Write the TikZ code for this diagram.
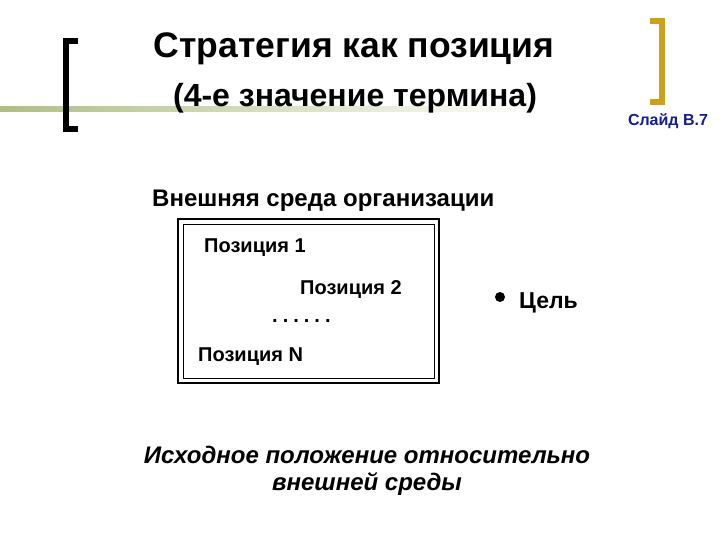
\documentclass[tikz,border=0pt]{standalone}
\usepackage{fontspec}
\setmainfont{Liberation Sans}
\usetikzlibrary{positioning}

\definecolor{slidegold}{RGB}{204,160,24}
\definecolor{slidenavy}{RGB}{20,30,140}
\definecolor{slideolive}{RGB}{175,190,130}

\begin{document}
\begin{tikzpicture}[x=1pt, y=-1pt,
    posbox/.style={anchor=base west, inner sep=0pt, font=\fontsize{20}{24}\selectfont\bfseries},
    bracket/.style={line width=6pt, line cap=butt}]
    \useasboundingbox[fill=white] (0,0) rectangle (720,540);

    % header band
    \shade[left color=slideolive, right color=white, draw=none] (0,107) rectangle (540,112);
    \draw[bracket, black] (78,41) -- (66,41) -- (66,129) -- (78,129);
    \draw[bracket, slidegold, line width=5.5pt] (650,21) -- (662,21) -- (662,102) -- (650,102);

    \node[anchor=base, inner sep=0pt, font=\fontsize{35.5}{40}\selectfont\bfseries] (title) at (354,58) {Стратегия как позиция};
    \node[anchor=base, inner sep=0pt, font=\fontsize{32}{36}\selectfont\bfseries] (subtitle) at (355,107) {(4-е значение термина)};
    \node[anchor=base, inner sep=0pt, text=slidenavy, font=\fontsize{16}{18}\selectfont\bfseries] (slide) at (668,126) {Слайд В.7};

    \node[anchor=base west, inner sep=0pt, font=\fontsize{24}{28}\selectfont\bfseries] (env) at (152,207) {Внешняя среда организации};

    % environment box
    \draw[line width=2.2pt] (178,219) rectangle (439,383);
    \draw[line width=0.8pt] (183,224) rectangle (434,378);

    \node[posbox] (p1) at (204,252) {Позиция 1};
    \node[posbox] (p2) at (300,294) {Позиция 2};
    \node[posbox] (dots) at (272,322) {.\hspace{5pt}.\hspace{5pt}.\hspace{5pt}.\hspace{5pt}.\hspace{5pt}.};
    \node[posbox] (pn) at (198,361) {Позиция N};

    \fill (500,297) circle (5);
    \node[anchor=base west, inner sep=0pt, font=\fontsize{23}{26}\selectfont\bfseries] (goal) at (519,308) {Цель};

    \node[anchor=base, inner sep=0pt, font=\fontsize{24}{27}\selectfont\bfseries\itshape] (start) at (367,463) {Исходное положение относительно};
    \node[anchor=base, inner sep=0pt, font=\fontsize{24}{27}\selectfont\bfseries\itshape] (start2) at (367,490) {внешней среды};
\end{tikzpicture}
\end{document}
